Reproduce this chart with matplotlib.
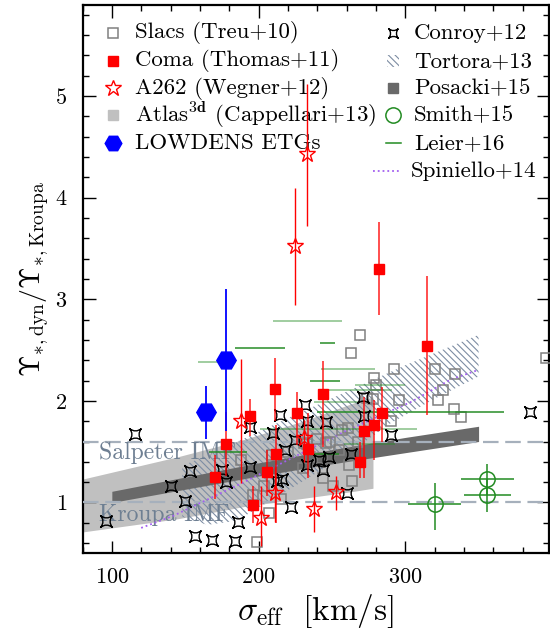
import numpy as np
import matplotlib
matplotlib.use('Agg')
import matplotlib.pyplot as plt
from matplotlib.path import Path
from matplotlib.patches import Rectangle
from matplotlib.ticker import MultipleLocator

plt.rcParams['font.family'] = ['cmr10', 'DejaVu Serif']
plt.rcParams['mathtext.fontset'] = 'cm'
plt.rcParams['axes.formatter.use_mathtext'] = True
plt.rcParams['hatch.linewidth'] = 0.8

# ---- data ----
slacs_sig = [269, 263, 292, 279, 280, 320, 334, 326, 322, 296, 333, 338, 290, 396,
             274, 278, 261, 199, 207, 196, 215, 204, 244, 251, 264, 262, 230, 231,
             246, 240, 249, 243, 209, 188, 268, 255, 220, 235, 257, 233]
slacs_ups = [2.65, 2.47, 2.31, 2.22, 2.16, 2.31, 2.26, 2.11, 2.01, 2.01, 1.92, 1.84,
             1.80, 2.42, 2.03, 2.02, 1.73, 0.61, 0.90, 1.07, 1.03, 1.16, 1.24, 1.16,
             1.21, 1.37, 1.34, 1.59, 1.59, 1.62, 1.60, 1.44, 1.47, 1.42, 1.60, 1.52,
             1.50, 1.45, 1.71, 1.58]

coma_sig = [282, 315, 211, 244, 194, 226, 178, 212, 234, 206, 170, 196, 284, 279, 272, 269]
coma_ups = [3.30, 2.54, 2.12, 2.07, 1.85, 1.88, 1.58, 1.48, 1.53, 1.30, 1.25, 0.98, 1.88, 1.76, 1.70, 1.40]
coma_lo = [2.84, 1.86, 1.80, 1.55, 1.65, 1.57, 1.26, 0.80, 1.24, 1.06, 1.03, 0.80, 1.60, 1.42, 1.24, 1.24]
coma_hi = [3.76, 3.23, 2.42, 2.39, 2.02, 2.09, 1.89, 1.76, 1.88, 1.52, 1.47, 1.16, 2.14, 2.01, 2.04, 1.60]

a262_sig = [233, 225, 188, 231, 211.5, 202, 237.5, 253]
a262_ups = [4.43, 3.52, 1.80, 1.63, 1.09, 0.85, 0.94, 1.10]
a262_lo = [3.72, 2.94, 1.19, 1.40, 0.81, 0.57, 0.71, 0.93]
a262_hi = [5.12, 4.09, 2.41, 1.81, 1.35, 1.16, 1.16, 1.26]

atlas_sig = [80, 145, 190, 230, 265, 278]
atlas_lo = [0.71, 0.84, 0.96, 1.04, 1.11, 1.14]
atlas_hi = [1.23, 1.45, 1.62, 1.80, 1.98, 2.04]

low_sig = [178, 164]
low_ups = [2.40, 1.89]
low_lo = [1.70, 1.62]
low_hi = [3.10, 2.15]

conroy_sig = [96, 116, 140, 150, 153.5, 157, 168, 175, 178, 184, 186, 194, 194, 210,
              214.5, 218, 212.5, 216, 222, 225, 232, 233, 233, 241, 244, 246, 248,
              260, 263, 271, 272, 290, 385]
conroy_ups = [0.82, 1.675, 1.16, 1.01, 1.31, 0.67, 0.63, 1.32, 1.20, 0.62, 0.81, 1.74,
              1.35, 1.68, 1.86, 1.52, 1.21, 1.23, 0.96, 1.61, 1.96, 1.80, 1.37, 1.42,
              1.32, 1.79, 1.45, 1.09, 1.48, 2.04, 1.85, 1.66, 1.89]

tortora_up_sig = [148, 180, 220, 260, 300, 350]
tortora_up = [1.36, 1.56, 1.83, 2.09, 2.35, 2.65]
tortora_lo_sig = [350, 320, 290, 260, 220, 185, 165, 148]
tortora_lo = [2.24, 2.02, 1.78, 1.47, 1.12, 0.82, 0.78, 0.86]

posacki_sig = [100, 150, 200, 250, 300, 350]
posacki_lo = [1.00, 1.13, 1.26, 1.38, 1.49, 1.60]
posacki_hi = [1.11, 1.25, 1.39, 1.52, 1.64, 1.75]

smith_sig = [320, 356, 356]
smith_ups = [0.99, 1.23, 1.07]
smith_sig_lo = [302, 338, 340]
smith_sig_hi = [338, 374, 372]
smith_lo = [0.725, 1.07, 0.91]
smith_hi = [1.19, 1.38, 1.23]

leier_lo = [209.6, 184.2, 242, 159, 242.8, 235.3, 266, 246, 237.6, 240, 201.2, 258, 166, 237.6]
leier_hi = [256.9, 218.3, 252.3, 178.5, 279.6, 255.8, 300, 291, 269.4, 367, 308, 293, 192.2, 254.6]
leier_ups = [2.79, 2.52, 2.57, 2.38, 2.31, 2.20, 2.16, 2.11, 1.99, 1.89, 1.72, 1.58, 1.50, 1.48]
leier_dark = [0, 1, 1, 0, 0, 1, 0, 0, 0, 1, 0, 0, 1, 1]

spin_sig = [120, 142, 190, 259, 304, 331, 349]
spin_ups = [0.75, 0.87, 1.20, 1.70, 1.99, 2.21, 2.30]

salpeter = 1.6
kroupa = 1.0

# ---- marker for Conroy (concave 4-point star) ----
tips = [(1, 1), (-1, 1), (-1, -1), (1, -1)]
ctrl = [(0, 0.2), (-0.2, 0), (0, -0.2), (0.2, 0)]
verts = [tips[0]]
codes = [Path.MOVETO]
for i in range(4):
    verts += [ctrl[i], tips[(i + 1) % 4]]
    codes += [Path.CURVE3, Path.CURVE3]
conroy_mk = Path(verts, codes)

red = '#ff0000'
green = '#228b22'
grey_sq = '#808080'
hatch_col = '#7d8da3'
imf_col = '#a6b0bc'
purple = '#a35ff0'
HATCH = '\\' * 5

fig = plt.figure(figsize=(5.5, 6.33), dpi=100)
ax = fig.add_axes([82.5 / 550, 79.7 / 633, 466.5 / 550, 548.8 / 633])

ax.fill_between(atlas_sig, atlas_lo, atlas_hi, color='#c0c0c0', lw=0, zorder=1)
ax.fill(tortora_up_sig + tortora_lo_sig, tortora_up + tortora_lo, facecolor='none',
        edgecolor=hatch_col, hatch=HATCH, lw=0, zorder=2)
ax.fill_between(posacki_sig, posacki_lo, posacki_hi, color='#696969', lw=0, zorder=3)

ax.axhline(salpeter, color=imf_col, lw=1.6, dashes=(7, 3), zorder=3.5)
ax.axhline(kroupa, color=imf_col, lw=1.6, dashes=(7, 3), zorder=3.5)
ax.text(91, 1.49, 'Salpeter IMF', color='#6e7f92', fontsize=17, va='center', zorder=3.6)
ax.text(91, 0.88, 'Kroupa IMF', color='#6e7f92', fontsize=17, va='center', zorder=3.6)

ax.plot(spin_sig, spin_ups, ls=':', color=purple, lw=1.3, zorder=4)

ax.plot(slacs_sig, slacs_ups, 's', ms=7.5, mfc='none', mec=grey_sq, mew=1.1, zorder=5)

for lo, hi, y, d in zip(leier_lo, leier_hi, leier_ups, leier_dark):
    ax.errorbar((lo + hi) / 2, y, xerr=(hi - lo) / 2, fmt='none', ecolor=green,
                elinewidth=1.2, capsize=0, alpha=0.9 if d else 0.5, zorder=5)

ax.plot(conroy_sig, conroy_ups, ls='none', marker=conroy_mk, ms=8.5, mfc='none',
        mec='k', mew=1.0, zorder=6)

ax.errorbar(coma_sig, coma_ups,
            yerr=[np.array(coma_ups) - np.array(coma_lo), np.array(coma_hi) - np.array(coma_ups)],
            fmt='s', ms=7.5, color=red, ecolor=(1, 0, 0, 0.75), elinewidth=1.3, capsize=0, zorder=7)
ax.errorbar(a262_sig, a262_ups,
            yerr=[np.array(a262_ups) - np.array(a262_lo), np.array(a262_hi) - np.array(a262_ups)],
            fmt='*', ms=12, mfc='none', mec=red, mew=1.0, ecolor=red, elinewidth=1.0,
            capsize=0, zorder=7)
ax.errorbar(low_sig, low_ups,
            yerr=[np.array(low_ups) - np.array(low_lo), np.array(low_hi) - np.array(low_ups)],
            fmt='H', ms=14, color='#0000ff', elinewidth=1.3, capsize=0, zorder=8)
ax.errorbar(smith_sig, smith_ups,
            xerr=[np.array(smith_sig) - np.array(smith_sig_lo), np.array(smith_sig_hi) - np.array(smith_sig)],
            yerr=[np.array(smith_ups) - np.array(smith_lo), np.array(smith_hi) - np.array(smith_ups)],
            fmt='o', ms=11, mfc='none', mec=green, mew=1.1, ecolor=green, elinewidth=1.1,
            capsize=0, zorder=8)

ax.set_xlim(80, 398)
ax.set_ylim(0.5, 5.9)
ax.set_xticks([100, 200, 300])
ax.set_yticks([1, 2, 3, 4, 5])
ax.xaxis.set_minor_locator(MultipleLocator(20))
ax.yaxis.set_minor_locator(MultipleLocator(0.2))
ax.tick_params(which='both', direction='in', top=True, right=True, width=1.0, labelsize=16)
ax.tick_params(axis='x', pad=10)
ax.tick_params(axis='y', pad=11)
ax.tick_params(which='major', length=9)
ax.tick_params(which='minor', length=4.5)
for s in ax.spines.values():
    s.set_linewidth(1.6)

ax.set_xlabel(r'$\sigma_{\rm eff}\ \ [{\rm km/s}]$', fontsize=24, labelpad=4)
ax.set_ylabel(r'$\Upsilon_{*,{\rm dyn}}/\Upsilon_{*,{\rm Kroupa}}$', fontsize=20, labelpad=3)

# ---- legend, placed in figure pixels like the reference ----
def fpos(px, py):
    return px / 550, 1 - py / 633

tf = fig.transFigure
legfs = 16.5
rows1 = [33, 61, 88, 115, 143]
rows2 = [33, 61, 88, 115, 143, 171]
labels1 = ['Slacs (Treu+10)', 'Coma (Thomas+11)', 'A262 (Wegner+12)',
           r'Atlas$^{\bf 3d}$ (Cappellari+13)', 'LOWDENS ETGs']
labels2 = ['Conroy+12', 'Tortora+13', 'Posacki+15', 'Smith+15', 'Leier+16', 'Spiniello+14']

for py, lab in zip(rows1, labels1):
    ax.text(*fpos(135, py), lab, transform=tf, fontsize=legfs, va='center', ha='left')
for py, lab in zip(rows2, labels2):
    ax.text(*fpos(414 if lab != 'Spiniello+14' else 411, py), lab, transform=tf,
            fontsize=legfs, va='center', ha='left')

mk = dict(transform=tf, clip_on=False, ls='none')
ax.plot(*fpos(113, rows1[0]), marker='s', ms=7, mfc='none', mec=grey_sq, mew=1.1, **mk)
ax.plot(*fpos(113, rows1[1]), marker='s', ms=7, color=red, **mk)
ax.plot(*fpos(113, rows1[2]), marker='*', ms=12, mfc='none', mec=red, mew=1.0, **mk)
ax.plot(*fpos(113, rows1[3]), marker='s', ms=7, color='#c0c0c0', **mk)
ax.plot(*fpos(113, rows1[4]), marker='H', ms=12, color='#0000ff', **mk)

ax.plot(*fpos(393, rows2[0]), marker=conroy_mk, ms=7, mfc='none', mec='k', mew=1.0, **mk)
fig.add_artist(Rectangle(fpos(387, rows2[1] + 6), 12 / 550, 12 / 633, transform=tf,
                         facecolor='none', edgecolor=hatch_col, hatch=HATCH, lw=0))
ax.plot(*fpos(393, rows2[2]), marker='s', ms=7, color='#696969', **mk)
ax.plot(*fpos(393, rows2[3]), marker='o', ms=11, mfc='none', mec=green, mew=1.1, **mk)
x0, y0 = fpos(386, rows2[4])
x1, _ = fpos(401, rows2[4])
ax.plot([x0, x1], [y0, y0], color=green, lw=1.1, transform=tf, clip_on=False)
x0, y0 = fpos(373, rows2[5])
x1, _ = fpos(400, rows2[5])
ax.plot([x0, x1], [y0, y0], color=purple, ls=':', lw=1.3, transform=tf, clip_on=False)

fig.savefig('out.png', dpi=100)
